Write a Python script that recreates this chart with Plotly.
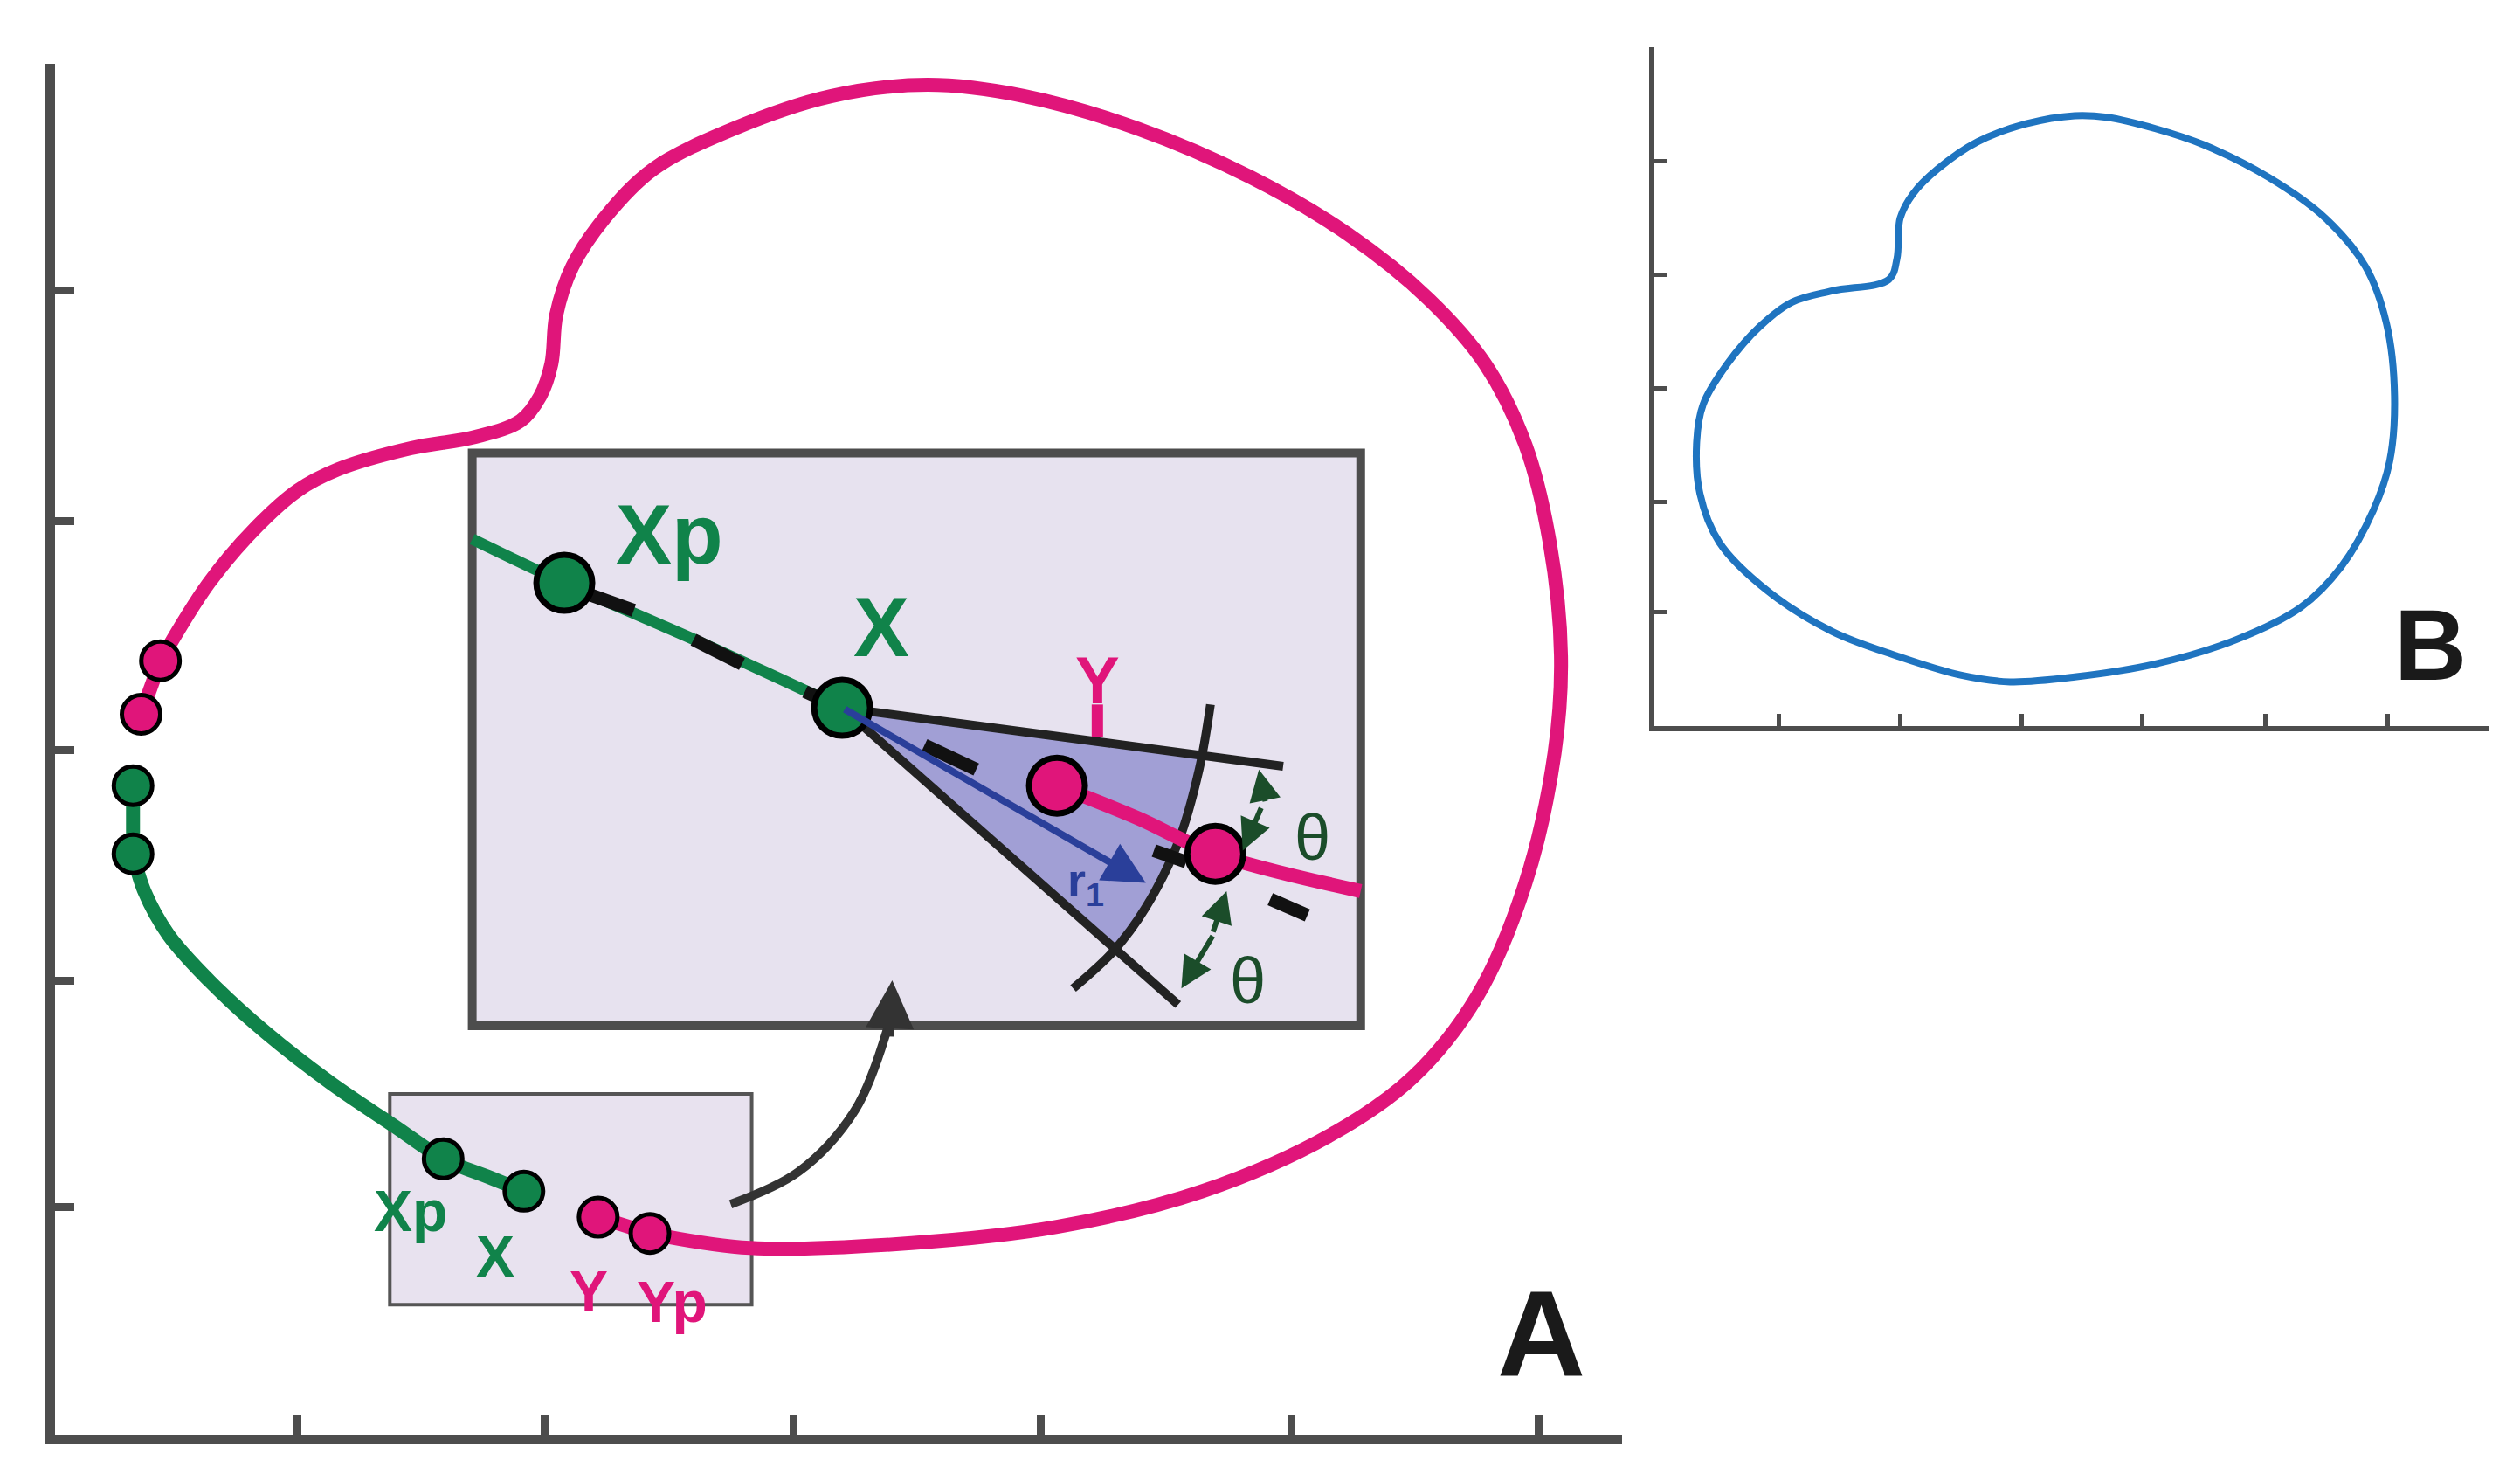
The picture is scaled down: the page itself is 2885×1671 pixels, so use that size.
import plotly.graph_objects as go

# coordinates (axis units = reference pixels)
loop_x = [398, 460, 560, 650, 740, 820, 870, 910, 940, 958, 962, 955, 940, 915, 880, 830, 770, 700, 630, 570, 510, 450, 400, 370, 350, 340, 337, 330, 318, 290, 250, 205, 180, 155, 125, 95]
loop_y = [756, 765, 762, 752, 730, 695, 660, 610, 540, 460, 400, 330, 270, 220, 180, 140, 105, 75, 55, 48, 55, 75, 100, 130, 160, 190, 220, 240, 255, 265, 272, 285, 298, 320, 355, 403]
green_x = [78, 85, 100, 125, 160, 200, 240, 270, 300, 320]
green_y = [522, 545, 572, 600, 632, 663, 690, 710, 722, 730]
gdots_x = [78, 78, 270, 320]
gdots_y = [480, 522, 710, 730]
mdots_x = [95, 83, 366, 398]
mdots_y = [403, 436, 746, 756]

zg_x = [288, 345, 430, 517]
zg_y = [328, 355, 392, 432]
zm_x = [650, 700, 748, 838]
zm_y = [480, 500, 522, 545]
wedge_x = [517, 740, 736, 729, 718, 703, 685, 517]
wedge_y = [432, 461, 485, 510, 535, 560, 580, 432]
arc_x = [745, 738, 725, 705, 685, 660]
arc_y = [430, 470, 515, 555, 582, 605]
dashes = [((360, 362), (388, 372)), ((425, 390), (455, 405)), ((494, 422), (505, 427)),
          ((568, 455), (600, 470)), ((710, 520), (730, 527)), ((782, 550), (805, 560))]
curve_x = [448, 490, 525, 545]
curve_y = [738, 718, 680, 630]

b_x = [1165, 1170, 1172, 1180, 1195, 1220, 1250, 1280, 1300, 1330, 1360, 1400, 1435, 1460, 1473, 1478, 1475, 1465, 1445, 1420, 1380, 1330, 1280, 1240, 1210, 1170, 1130, 1090, 1060, 1048, 1046, 1050, 1065, 1085, 1105, 1130, 1165]
b_y = [168, 155, 130, 115, 100, 83, 72, 67, 68, 75, 85, 105, 130, 160, 195, 240, 280, 310, 345, 370, 390, 405, 413, 416, 412, 400, 385, 360, 330, 300, 268, 245, 220, 197, 182, 175, 168]

a_xt = [180, 333, 487, 640, 795, 948]
a_yt = [740, 600, 458, 317, 175]
b_xt = [1097, 1172, 1247, 1322, 1398, 1474]
b_yt = [95, 165, 235, 305, 373]

MAG = "#e0157a"
GRN = "#10834a"
W, H = 1560, 900

fig = go.Figure()

def line(x, y, c, w, smooth=False, **kw):
    fig.add_trace(go.Scatter(x=x, y=y, mode="lines",
                             line=dict(color=c, width=w, shape="spline" if smooth else "linear"), **kw))

line(loop_x, loop_y, MAG, 16, True)
line(green_x, green_y, GRN, 16, True)
line([78, 78], [480, 522], GRN, 16)
line([95, 83], [403, 436], MAG, 16)
line([366, 398], [746, 756], MAG, 16)
fig.add_trace(go.Scatter(x=gdots_x, y=gdots_y, mode="markers",
                         marker=dict(size=44, color=GRN, line=dict(color="black", width=5))))
fig.add_trace(go.Scatter(x=mdots_x, y=mdots_y, mode="markers",
                         marker=dict(size=44, color=MAG, line=dict(color="black", width=5))))

fig.add_shape(type="rect", x0=237, y0=670, x1=461, y1=800, fillcolor="#e8e2ef",
              line=dict(color="#555", width=4), layer="below")
fig.add_shape(type="rect", x0=288, y0=275, x1=838, y1=628, fillcolor="#e7e2ef",
              line=dict(color="#4d4d4d", width=10), layer="below")

fig.add_trace(go.Scatter(x=wedge_x, y=wedge_y, mode="lines", fill="toself",
                         fillcolor="rgba(115,115,195,0.6)", line=dict(width=0)))
line([790, 517, 725], [468, 432, 615], "#222", 10)
line(arc_x, arc_y, "#222", 10, True)
line(zg_x, zg_y, GRN, 13, True)
line(zm_x, zm_y, MAG, 16, True)
line([675, 675], [430, 450], MAG, 13)
for (p, q) in dashes:
    line([p[0], q[0]], [p[1], q[1]], "#111", 15)
fig.add_trace(go.Scatter(x=[345, 517], y=[355, 432], mode="markers",
                         marker=dict(size=64, color=GRN, line=dict(color="black", width=7))))
fig.add_trace(go.Scatter(x=[650, 748], y=[480, 522], mode="markers",
                         marker=dict(size=64, color=MAG, line=dict(color="black", width=7))))

def arrow(x0, y0, x1, y1, c, w=5, size=1.2):
    fig.add_annotation(x=x1, y=y1, ax=x0, ay=y0, xref="x", yref="y", axref="x", ayref="y",
                       showarrow=True, arrowhead=2, arrowsize=size, arrowwidth=w, arrowcolor=c, text=" ")

arrow(517, 432, 705, 540, "#2a3f9a", 8, 1.2)
arrow(780, 495, 775, 470, "#1b4d2a", 6)
arrow(778, 490, 765, 520, "#1b4d2a", 6)
arrow(745, 575, 755, 545, "#1b4d2a", 6)
arrow(748, 570, 727, 605, "#1b4d2a", 6)
line(curve_x, curve_y, "#333", 10, True)
arrow(546, 640, 548, 600, "#333", 10, 1.1)

def txt(x, y, s, c, sz, bold=True):
    fig.add_annotation(x=x, y=y, xref="x", yref="y", text=f"<b>{s}</b>" if bold else s,
                       showarrow=False, font=dict(color=c, size=sz, family="Liberation Sans"))

txt(410, 325, "Xp", GRN, 96)
txt(541, 382, "X", GRN, 96)
txt(675, 415, "Y", MAG, 76)
txt(668, 540, "r<sub>1</sub>", "#2a3f9a", 54)
txt(808, 512, "θ", "#1b4d2a", 74, False)
txt(768, 600, "θ", "#1b4d2a", 74, False)
txt(250, 742, "Xp", GRN, 66)
txt(302, 770, "X", GRN, 66)
txt(360, 792, "Y", MAG, 66)
txt(412, 798, "Yp", MAG, 66)
txt(950, 818, "A", "#1a1a1a", 140)
fig.add_annotation(x=1500, y=393, xref="x2", yref="y2", text="<b>B</b>", showarrow=False,
                   font=dict(color="#1a1a1a", size=115, family="Liberation Sans"))

fig.add_trace(go.Scatter(x=b_x, y=b_y, mode="lines", line=dict(color="#1f74c0", width=8, shape="spline"),
                         xaxis="x2", yaxis="y2"))

ax = dict(showgrid=False, zeroline=False, showticklabels=False, ticks="inside",
          showline=True, linecolor="#4d4d4d", tickcolor="#4d4d4d")
fig.update_layout(
    width=2885, height=1671, autosize=False, showlegend=False,
    margin=dict(l=0, r=0, t=0, b=0), plot_bgcolor="white", paper_bgcolor="white",
    xaxis=dict(ax, domain=[30 / W, 1000 / W], range=[30, 1000], tickvals=a_xt,
               linewidth=11, ticklen=22, tickwidth=9),
    yaxis=dict(ax, domain=[1 - 880 / H, 1 - 35 / H], range=[880, 35], tickvals=a_yt,
               linewidth=11, ticklen=22, tickwidth=9),
    xaxis2=dict(ax, domain=[1020 / W, 1537 / W], range=[1020, 1537], tickvals=b_xt,
                anchor="y2", linewidth=6, ticklen=14, tickwidth=5),
    yaxis2=dict(ax, domain=[1 - 443 / H, 1 - 25 / H], range=[443, 25], tickvals=b_yt,
                anchor="x2", linewidth=6, ticklen=14, tickwidth=5),
)
fig.write_html("out.html")
